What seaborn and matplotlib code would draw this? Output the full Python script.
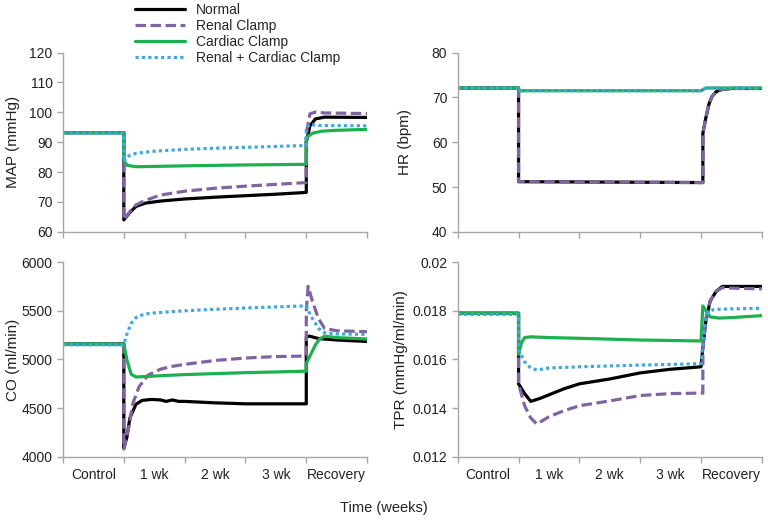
import pandas as pd
import matplotlib
matplotlib.use("Agg")
import matplotlib.pyplot as plt
import seaborn as sns
from matplotlib.ticker import FuncFormatter

sns.set_style("white")
plt.rcParams['font.family'] = ['Liberation Sans', 'DejaVu Sans']

# category labels on the time axis (one per week block)
periods = ["Control", "1 wk", "2 wk", "3 wk", "Recovery"]
groups = ["Normal", "Renal Clamp", "Cardiac Clamp", "Renal + Cardiac Clamp"]

# ---- MAP (mmHg) ----
map_normal_t = [0, 1.0, 1.0, 1.1, 1.2, 1.35, 1.6, 2.0, 2.5, 3.0, 3.5, 4.0, 4.0, 4.06, 4.15, 4.3, 5.0]
map_normal = [93.2, 93.2, 64.0, 66.5, 68.5, 69.6, 70.3, 71.0, 71.6, 72.1, 72.6, 73.2, 90.0, 95.5, 97.8, 98.4, 98.3]
map_renal_t = [0, 1.0, 1.0, 1.1, 1.2, 1.35, 1.6, 2.0, 2.5, 3.0, 3.5, 4.0, 4.0, 4.06, 4.15, 4.3, 5.0]
map_renal = [93.2, 93.2, 64.0, 66.8, 69.0, 70.5, 72.3, 73.6, 74.6, 75.3, 75.9, 76.5, 93.0, 99.5, 100.1, 99.8, 99.6]
map_cardiac_t = [0, 1.0, 1.0, 1.05, 1.2, 1.5, 2.0, 3.0, 4.0, 4.0, 4.1, 4.25, 4.5, 5.0]
map_cardiac = [93.2, 93.2, 84.0, 82.3, 81.8, 81.9, 82.1, 82.4, 82.6, 91.5, 93.0, 93.7, 94.0, 94.3]
map_both_t = [0, 1.0, 1.0, 1.05, 1.2, 1.5, 2.0, 2.5, 3.0, 3.5, 4.0, 4.0, 4.05, 4.2, 5.0]
map_both = [93.0, 93.0, 83.5, 85.2, 86.3, 87.0, 87.6, 88.0, 88.3, 88.6, 88.9, 94.5, 96.0, 95.6, 95.5]

# ---- HR (bpm) ----
hr_normal_t = [0, 1.0, 1.0, 4.03, 4.03, 4.08, 4.13, 4.18, 4.25, 4.35, 4.5, 5.0]
hr_normal = [72.1, 72.1, 51.2, 51.0, 62.0, 65.5, 68.5, 70.2, 71.3, 71.8, 72.0, 72.0]
hr_renal_t = [0, 1.0, 1.0, 4.03, 4.03, 4.08, 4.13, 4.18, 4.25, 4.35, 4.5, 5.0]
hr_renal = [72.1, 72.1, 51.2, 51.0, 62.0, 65.5, 68.5, 70.2, 71.3, 71.8, 72.0, 72.0]
hr_cardiac_t = [0, 1.0, 1.0, 4.0, 4.08, 5.0]
hr_cardiac = [72.1, 72.1, 71.5, 71.5, 72.1, 72.1]
hr_both_t = [0, 1.0, 1.0, 4.0, 4.08, 5.0]
hr_both = [72.1, 72.1, 71.5, 71.5, 72.1, 72.1]

# ---- CO (ml/min) ----
co_normal_t = [0, 1.0, 1.0, 1.05, 1.1, 1.2, 1.3, 1.45, 1.6, 1.7, 1.8, 1.9, 2.0, 2.5, 3.0, 3.5, 4.0, 4.0, 4.05, 4.2, 4.5, 5.0]
co_normal = [5160, 5160, 4090, 4200, 4400, 4540, 4580, 4590, 4585, 4570, 4585, 4570, 4570, 4555, 4545, 4545, 4545, 5230, 5240, 5215, 5200, 5185]
co_renal_t = [0, 1.0, 1.0, 1.08, 1.15, 1.25, 1.4, 1.6, 1.8, 2.0, 2.5, 3.0, 3.5, 4.0, 4.0, 4.03, 4.1, 4.2, 4.3, 4.5, 5.0]
co_renal = [5160, 5160, 4080, 4300, 4550, 4720, 4840, 4900, 4930, 4950, 4990, 5015, 5030, 5035, 5500, 5750, 5600, 5420, 5320, 5295, 5285]
co_cardiac_t = [0, 1.0, 1.05, 1.12, 1.2, 1.5, 2.0, 2.5, 3.0, 3.5, 4.0, 4.0, 4.08, 4.15, 4.22, 4.3, 4.5, 5.0]
co_cardiac = [5160, 5160, 5000, 4850, 4820, 4830, 4845, 4855, 4865, 4872, 4880, 4960, 5060, 5150, 5210, 5240, 5225, 5210]
co_both_t = [0, 1.0, 1.05, 1.12, 1.2, 1.33, 1.5, 1.7, 2.0, 2.5, 3.0, 3.5, 4.0, 4.05, 4.1, 4.2, 4.3, 4.5, 5.0]
co_both = [5150, 5150, 5260, 5370, 5430, 5465, 5478, 5487, 5500, 5515, 5528, 5540, 5550, 5480, 5420, 5320, 5275, 5262, 5258]

# ---- TPR (mmHg/ml/min) ----
tpr_normal_t = [0, 1.0, 1.0, 1.1, 1.2, 1.35, 1.5, 1.75, 2.0, 2.5, 3.0, 3.5, 4.0, 4.03, 4.08, 4.15, 4.25, 4.35, 4.5, 5.0]
tpr_normal = [0.0179, 0.0179, 0.0150, 0.0146, 0.01428, 0.0144, 0.01455, 0.0148, 0.0150, 0.0152, 0.01545, 0.0156, 0.0157,
              0.0165, 0.0176, 0.0184, 0.0188, 0.0190, 0.0190, 0.0190]
tpr_renal_t = [0, 1.0, 1.0, 1.1, 1.2, 1.3, 1.5, 1.75, 2.0, 2.5, 3.0, 3.5, 4.0, 4.03, 4.03, 4.08, 4.15, 4.25, 4.35, 4.5, 5.0]
tpr_renal = [0.0179, 0.0179, 0.0150, 0.0141, 0.0136, 0.01335, 0.01365, 0.0139, 0.0141, 0.0143, 0.01452, 0.0146, 0.01462,
             0.01462, 0.0165, 0.0177, 0.0184, 0.0188, 0.01895, 0.01893, 0.0189]
tpr_cardiac_t = [0, 1.0, 1.0, 1.05, 1.1, 1.2, 1.5, 2.0, 3.0, 4.0, 4.03, 4.08, 4.15, 4.3, 4.5, 5.0]
tpr_cardiac = [0.0179, 0.0179, 0.0162, 0.0167, 0.0169, 0.01693, 0.0169, 0.01687, 0.0168, 0.01676, 0.0182, 0.0180,
               0.01775, 0.0177, 0.01772, 0.0178]
tpr_both_t = [0, 1.0, 1.0, 1.1, 1.2, 1.3, 1.5, 2.0, 3.0, 4.0, 4.05, 4.1, 4.2, 4.5, 5.0]
tpr_both = [0.01785, 0.01785, 0.0164, 0.0159, 0.01565, 0.01557, 0.01565, 0.0157, 0.01577, 0.01583, 0.0172, 0.0179,
            0.01805, 0.01808, 0.0181]

colors = ["black", "#8064A2", "#1DB04F", "#3FA9DF"]
styles = ["-", (0, (3.3, 1.4)), "-", (0, (1, 1))]

panels = [
    ("MAP (mmHg)", (60, 120), 10, [(map_normal_t, map_normal), (map_renal_t, map_renal), (map_cardiac_t, map_cardiac), (map_both_t, map_both)]),
    ("HR (bpm)", (40, 80), 10, [(hr_normal_t, hr_normal), (hr_renal_t, hr_renal), (hr_cardiac_t, hr_cardiac), (hr_both_t, hr_both)]),
    ("CO (ml/min)", (4000, 6000), 500, [(co_normal_t, co_normal), (co_renal_t, co_renal), (co_cardiac_t, co_cardiac), (co_both_t, co_both)]),
    ("TPR (mmHg/ml/min)", (0.012, 0.02), 0.002, [(tpr_normal_t, tpr_normal), (tpr_renal_t, tpr_renal), (tpr_cardiac_t, tpr_cardiac), (tpr_both_t, tpr_both)]),
]

fig = plt.figure(figsize=(7.68, 5.21), dpi=100)
# axes boxes in figure fractions (left, bottom, width, height)
boxes = [(0.082, 0.555, 0.396, 0.344), (0.596, 0.555, 0.396, 0.344),
         (0.082, 0.123, 0.396, 0.374), (0.596, 0.123, 0.396, 0.374)]
label_x = [-0.14, -0.15, -0.14, -0.165]

gray = "#A6A6A6"
for i, (ylab, ylim, step, series) in enumerate(panels):
    ax = fig.add_axes(boxes[i])
    for j, (t, v) in enumerate(series):
        df = pd.DataFrame({"t": t, "v": v})
        sns.lineplot(data=df, x="t", y="v", ax=ax, estimator=None, sort=False,
                     color=colors[j], linestyle=styles[j], linewidth=2.3,
                     label=groups[j] if i == 0 else None, legend=False)
    ax.set_xlim(0, 5)
    ax.set_ylim(*ylim)
    n = int(round((ylim[1] - ylim[0]) / step))
    ax.set_yticks([ylim[0] + k * step for k in range(n + 1)])
    if i == 3:
        ax.yaxis.set_major_formatter(FuncFormatter(lambda x, p: "%g" % round(x, 4)))
    # boundaries get tick marks, labels sit in between
    ax.set_xticks([0, 1, 2, 3, 4, 5])
    ax.set_xticklabels([])
    ax.set_xticks([0.5, 1.5, 2.5, 3.5, 4.5], minor=True)
    if i >= 2:
        ax.set_xticklabels(periods, minor=True)
    ax.tick_params(axis="x", which="minor", length=0, labelsize=10, pad=8, colors="#222222")
    ax.tick_params(axis="both", which="major", length=4, width=1, color=gray, labelsize=10,
                   labelcolor="#222222", direction="out")
    ax.tick_params(axis="y", left=True)
    ax.tick_params(axis="x", which="major", bottom=True)
    ax.set_ylabel(ylab, fontsize=11, color="#222222")
    ax.set_xlabel("")
    sns.despine(ax=ax)
    for s in ["left", "bottom"]:
        ax.spines[s].set_color(gray)
        ax.spines[s].set_linewidth(1)
    ax.yaxis.set_label_coords(label_x[i], 0.5)

handles, labels = fig.axes[0].get_legend_handles_labels()
fig.legend(handles, labels, loc="upper left", bbox_to_anchor=(0.168, 1.005), frameon=False,
           fontsize=10, handlelength=3.6, handletextpad=0.8, labelspacing=0.15, borderaxespad=0)

fig.text(0.5, 0.024, "Time (weeks)", ha="center", va="center", fontsize=10.5, color="#222222")

plt.savefig("out.png", dpi=100)
